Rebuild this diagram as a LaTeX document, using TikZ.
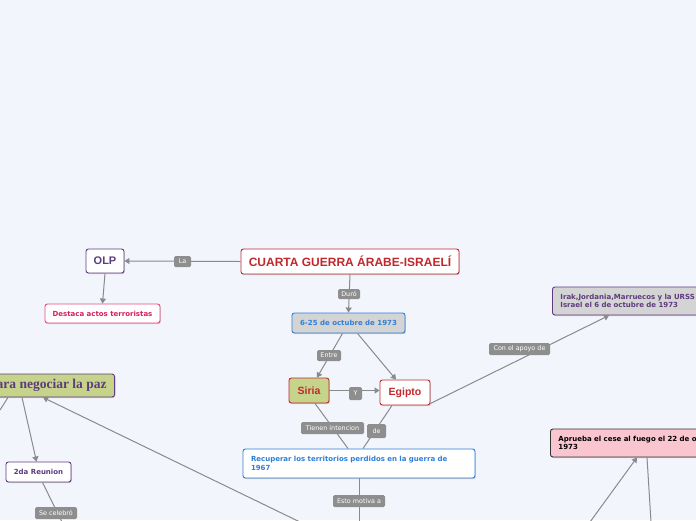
\documentclass[tikz,border=0pt]{standalone}
\usepackage{fontspec}
\setmainfont{DejaVu Sans}
\newfontfamily\titlefont{Liberation Sans}
\newfontfamily\serfont{Liberation Serif}
\usetikzlibrary{arrows.meta,shadows}
\definecolor{bgc}{HTML}{F3F5FD}
\definecolor{redc}{HTML}{C0282D}
\definecolor{purc}{HTML}{5E3A7E}
\definecolor{bluec}{HTML}{2F7FD6}
\definecolor{pinkc}{HTML}{D81E5B}
\definecolor{olivec}{HTML}{C5D38B}
\definecolor{grayfill}{HTML}{D4D4D4}
\definecolor{edgec}{HTML}{8A8A8A}
\definecolor{labc}{HTML}{8E8E8E}
\definecolor{pinkfill}{HTML}{F9C6D0}
\tikzset{
  box/.style={draw, rounded corners=2.5pt, line width=0.9pt, inner sep=0pt, font=\bfseries\fontsize{7}{8.5}\selectfont,
    drop shadow={shadow xshift=0.8pt, shadow yshift=-1.2pt, opacity=0.35}},
  lab/.style={fill=labc, rounded corners=1.5pt, text=white, inner sep=0pt, font=\fontsize{6.4}{7}\selectfont},
  conn/.style={draw=edgec, line width=1pt},
  arr/.style={conn, -{Triangle[width=6pt,length=5pt]}}
}
\begin{document}
\begin{tikzpicture}[x=1pt,y=-1pt]
\fill[bgc] (0,0) rectangle (696,520);
\useasboundingbox (0,0) rectangle (696,520);
\clip (0,0) rectangle (696,520);

% nodes
\node[box, draw=redc, fill=white, text=redc, minimum width=218pt, minimum height=25pt,
  font=\titlefont\bfseries\fontsize{12}{13}\selectfont] (main) at (350,261.5) {CUARTA GUERRA ÁRABE-ISRAELÍ};
\node[box, draw=purc, fill=white, text=purc, minimum width=38pt, minimum height=24pt,
  font=\titlefont\bfseries\fontsize{11}{13}\selectfont] (olp) at (105,261) {OLP};
\node[box, draw=pinkc!80, fill=white, text=pinkc, minimum width=115pt, minimum height=19pt] (dest) at (102.5,313.5) {Destaca actos terroristas};
\node[box, draw=bluec, fill=grayfill, text=bluec, minimum width=113pt, minimum height=20pt] (date) at (348.5,323) {6-25 de octubre de 1973};
\node[box, draw=redc, fill=olivec, text=redc, minimum width=40pt, minimum height=25pt,
  font=\titlefont\bfseries\fontsize{10.5}{13}\selectfont] (siria) at (309,390.5) {Siria};
\node[box, draw=redc, fill=white, text=redc, minimum width=50pt, minimum height=25pt,
  font=\titlefont\bfseries\fontsize{10.5}{13}\selectfont] (egipto) at (405,392.5) {Egipto};
\node[box, draw=bluec, fill=white, text=bluec, minimum width=232pt, minimum height=29pt,
  text width=216pt, align=left] (recup) at (359,463.5) {Recuperar los territorios perdidos en la guerra de\\1967};
\node[box, draw=purc, fill=olivec, text=purc, minimum height=23pt, anchor=east,
  font=\serfont\bfseries\fontsize{13.5}{15}\selectfont, inner xsep=8pt] (paz) at (115,385.5) {Para negociar la paz};
\node[box, draw=purc, fill=white, text=purc, minimum width=65pt, minimum height=20pt] (reun) at (38.5,472) {2da Reunion};
\node[box, draw=purc, fill=grayfill, text=purc, minimum height=28pt, anchor=west, text width=220pt, align=left,
  inner xsep=8pt] (irak) at (552,301) {Irak,Jordania,Marruecos y la URSS apoyan a Egipto\\Israel el 6 de octubre de 1973};
\node[box, draw=black!80, fill=pinkfill, text=black, minimum height=28pt, anchor=west, text width=230pt, align=left,
  inner xsep=8pt] (aprueba) at (550,443) {Aprueba el cese al fuego el 22 de octubre de\\1973};

% free ends
\coordinate (pazL) at (0,410);
\coordinate (recB) at (359,522);
\coordinate (negB) at (300,522);
\coordinate (reunB) at (62,522);
\coordinate (apB1) at (590,522);
\coordinate (apB2) at (651,522);

% connectors
\draw[arr] (main.west) -- (olp.east);
\draw[arr] (olp.south) -- (dest.north);
\draw[arr] (main.south) -- (date.north);
\draw[arr] ([xshift=-6pt]date.south) -- ([xshift=8pt]siria.north);
\draw[arr] ([xshift=9pt]date.south) -- ([xshift=-9pt]egipto.north);
\draw[arr] (siria.east) -- (siria.east -| egipto.west);
\draw[conn] ([xshift=6pt]siria.south) -- ([xshift=-11pt]recup.north);
\draw[conn] ([xshift=-13pt]egipto.south) -- ([xshift=4pt]recup.north);
\draw[arr] ([yshift=-11pt]egipto.east) -- ([xshift=57pt]irak.south west);
\draw[conn] (recup.south) -- (recB);
\draw[arr] (negB) -- ([xshift=-72pt]paz.south east);
\draw[conn] ([xshift=-107pt]paz.south east) -- (pazL);
\draw[arr] ([xshift=-93pt]paz.south east) -- ([xshift=-2pt]reun.north);
\draw[conn] ([xshift=4pt]reun.south) -- (reunB);
\draw[arr] (apB1) -- ([xshift=87pt]aprueba.south west);
\draw[conn] ([xshift=97pt]aprueba.south west) -- (apB2);

% labels
\node[lab, minimum width=17pt, minimum height=11pt] (lLa) at (182.5,261.5) {La};
\node[lab, minimum width=22pt, minimum height=10pt] (lDuro) at (349,294) {Duró};
\node[lab, minimum width=24pt, minimum height=11pt] (lEntre) at (329,355.5) {Entre};
\node[lab, minimum width=13pt, minimum height=13pt] (lY) at (355.5,393.5) {Y};
\node[lab, minimum width=63pt, minimum height=12pt] (lTien) at (332.5,428) {Tienen intencion};
\node[lab, minimum width=19pt, minimum height=14pt] (lDe) at (376.5,431) {de};
\node[lab, minimum width=52pt, minimum height=12pt] (lEsto) at (359,501) {Esto motiva a};
\node[lab, minimum width=61pt, minimum height=12pt] (lApoyo) at (519.5,349) {Con el apoyo de};
\node[lab, minimum width=42pt, minimum height=12pt] (lSe) at (56,513) {Se celebró};
\end{tikzpicture}
\end{document}
